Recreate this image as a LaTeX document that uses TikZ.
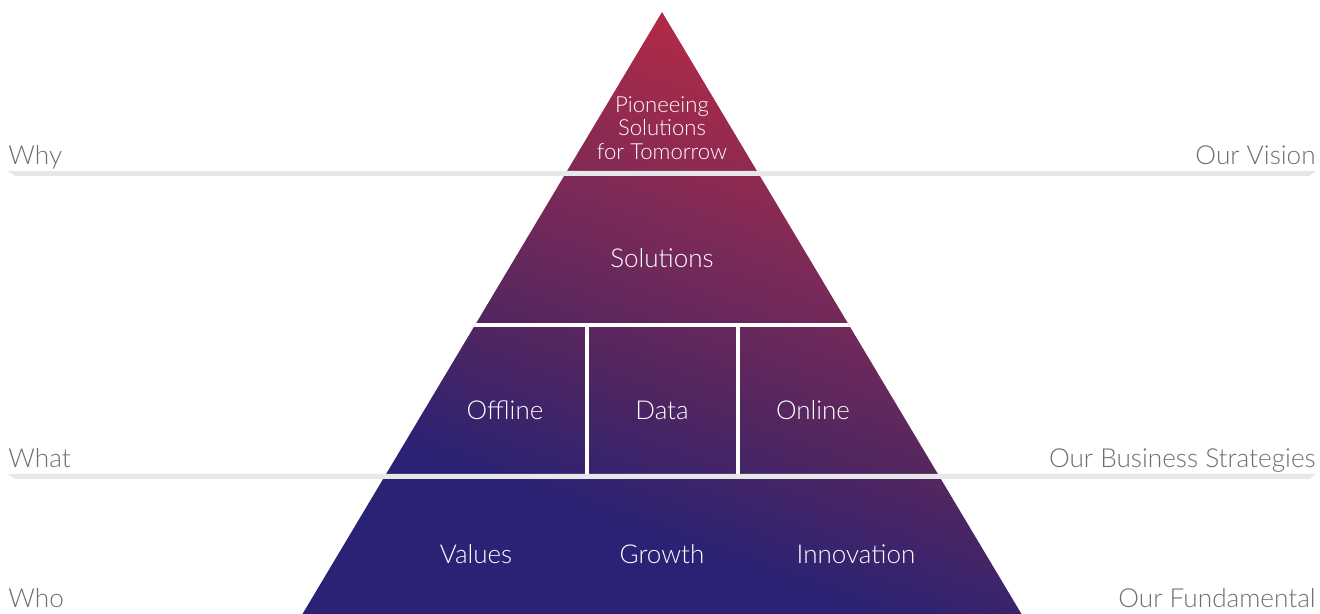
\documentclass[tikz,border=0pt]{standalone}
\usepackage{fontspec}
\setmainfont{Lato}[UprightFont={* Light}]
\definecolor{pyrred}{HTML}{B42A44}
\definecolor{pyrplum}{HTML}{7C2A58}
\definecolor{pyrpurple}{HTML}{53265F}
\definecolor{pyrblue}{HTML}{2A2274}
\definecolor{linegray}{HTML}{E6E7E8}
\definecolor{labelgray}{HTML}{6D6E71}
\pgfdeclareverticalshading{pyramid}{100bp}{color(0bp)=(pyrblue); color(33bp)=(pyrblue); color(45bp)=(pyrpurple); color(57bp)=(pyrplum); color(73bp)=(pyrred); color(100bp)=(pyrred)}
\begin{document}
\begin{tikzpicture}[x=0.02cm, y=-0.02cm,
    level/.style={text=white, inner sep=0pt, font=\fontsize{14.8}{17}\selectfont},
    side/.style={text=labelgray, inner sep=0pt, font=\fontsize{14.9}{17}\selectfont},
    sep/.style={white, line width=0.08cm}]
    \useasboundingbox (0,0) rectangle (1320,614);

    \coordinate (apex) at (662,12);
    \coordinate (bl) at (302.5,614);
    \coordinate (br) at (1021.5,614);

    % pyramid
    \begin{scope}
        \clip (apex) -- (br) -- (bl) -- cycle;
        \shade[shading=pyramid, shading angle=-20] (302,12) rectangle (1022,614);
        \draw[sep] (300,325) -- (1025,325);
        \draw[sep] (587,325) -- (587,476);
        \draw[sep] (738,325) -- (738,476);
    \end{scope}

    % gray rules
    \fill[linegray] (8,171) -- (1316,171) -- (1309,176) -- (15,176) -- cycle;
    \fill[linegray] (8,474) -- (1316,474) -- (1309,479) -- (15,479) -- cycle;

    % levels
    \node[level, align=center, font=\fontsize{12.6}{13.4}\selectfont] (pioneer) at (662,128) {Pioneeing\\Solutions\\for Tomorrow};
    \node[level] (solutions) at (662,258) {Solutions};
    \node[level] (offline) at (505,410) {Offline};
    \node[level] (data) at (662,410) {Data};
    \node[level] (online) at (813,410) {Online};
    \node[level] (values) at (476,554) {Values};
    \node[level] (growth) at (662,554) {Growth};
    \node[level] (innovation) at (856,554) {Innovation};

    % side labels
    \node[side, anchor=base west] (why) at (8,165) {Why};
    \node[side, anchor=base west] (what) at (8,468) {What};
    \node[side, anchor=base west] (who) at (8,608) {Who};
    \node[side, anchor=base east] (vision) at (1316,165) {Our Vision};
    \node[side, anchor=base east] (strategies) at (1316,468) {Our Business Strategies};
    \node[side, anchor=base east] (fundamental) at (1316,608) {Our Fundamental};
\end{tikzpicture}
\end{document}
